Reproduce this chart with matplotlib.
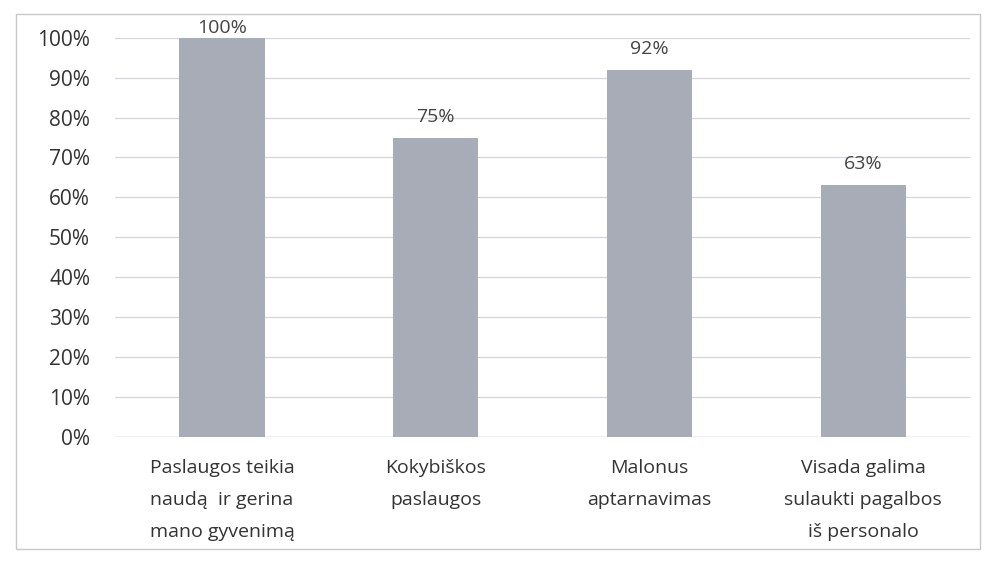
import matplotlib.pyplot as plt
from matplotlib.patches import Rectangle

categories = ["Paslaugos teikia\nnaudą  ir gerina\nmano gyvenimą",
              "Kokybiškos\npaslaugos",
              "Malonus\naptarnavimas",
              "Visada galima\nsulaukti pagalbos\niš personalo"]
values = [100, 75, 92, 63]
yticks = [0, 10, 20, 30, 40, 50, 60, 70, 80, 90, 100]

plt.rcParams['font.family'] = ['Open Sans', 'DejaVu Sans']

fig = plt.figure(figsize=(9.92, 5.63), dpi=100)
ax = fig.add_axes([0.116, 0.224, 0.862, 0.709])

x = range(len(categories))
bars = ax.bar(x, values, width=0.4, color="#a8acb6", zorder=2)
for b, v in zip(bars, values):
    ax.text(b.get_x() + b.get_width() / 2, min(v + 3, 100.3), f"{v}%", ha="center", va="bottom",
            fontsize=14, color="#444444")

ax.set_xlim(-0.5, len(categories) - 0.5)
ax.set_ylim(0, 100)
ax.set_yticks(yticks)
ax.set_yticklabels([f"{t}%" for t in yticks], fontsize=15, color="#333333")
ax.set_xticks(list(x))
ax.set_xticklabels(categories, fontsize=14, color="#333333", linespacing=2.0)
ax.tick_params(length=0, pad=16)
ax.tick_params(axis="y", pad=18)
ax.grid(axis="y", color="#d4d4dc", lw=0.9, zorder=0)
for s in ax.spines.values():
    s.set_visible(False)
ax.axhline(0, color="#c8c8d0", lw=1, zorder=1)

# outer chart border
fig.patches.append(Rectangle((0.016, 0.025), 0.972, 0.95, transform=fig.transFigure,
                             fill=False, edgecolor="#c8c8c8", lw=1))

fig.savefig("out.png", dpi=100)
